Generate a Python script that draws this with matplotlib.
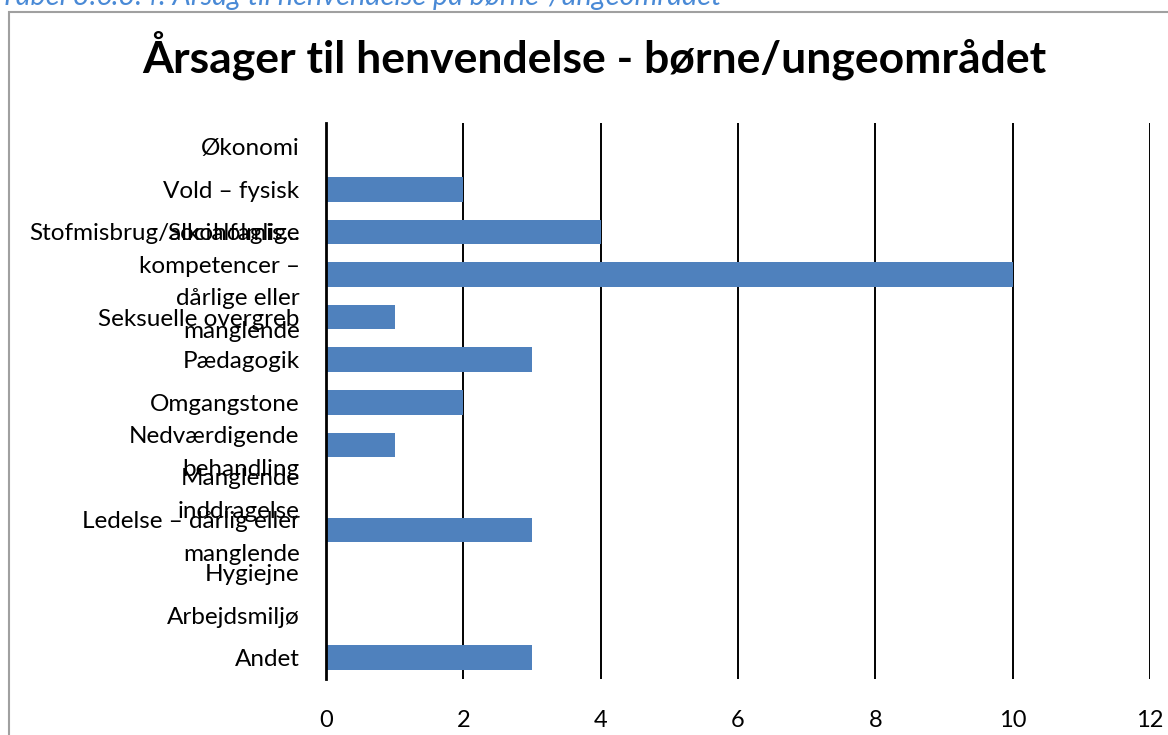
import matplotlib
matplotlib.use("Agg")
import matplotlib.pyplot as plt
from matplotlib.patches import Rectangle

# data (top to bottom)
kategorier = [
    "Økonomi",
    "Vold – fysisk",
    "Stofmisbrug/alkoholmis...",
    "Socialfaglige\nkompetencer –\ndårlige eller\nmanglende",
    "Seksuelle overgreb",
    "Pædagogik",
    "Omgangstone",
    "Nedværdigende\nbehandling",
    "Manglende\ninddragelse",
    "Ledelse – dårlig eller\nmanglende",
    "Hygiejne",
    "Arbejdsmiljø",
    "Andet",
]
antal = [0, 2, 4, 10, 1, 3, 2, 1, 0, 3, 0, 0, 3]
x_ticks = [0, 2, 4, 6, 8, 10, 12]

plt.rcParams['font.family'] = ['Lato', 'DejaVu Sans']

fig = plt.figure(figsize=(11.68, 7.35), dpi=100)
ax = fig.add_axes([326 / 1168, 1 - 679 / 735, (1150 - 326) / 1168, (679 - 123) / 735])

pos = list(range(len(kategorier)))
ax.barh(pos, antal, height=0.58, color="#4F81BD", zorder=3)

ax.set_xlim(0, 12)
ax.set_ylim(12.5, -0.56)
ax.set_xticks(x_ticks)
ax.set_yticks(pos)
ax.set_yticklabels(kategorier)
ax.tick_params(axis='x', length=0, pad=22, labelsize=17)
ax.tick_params(axis='y', length=0, pad=19, labelsize=17.5)
for lab in ax.get_yticklabels():
    lab.set_horizontalalignment('right')
    if "\n" in lab.get_text():
        lab.set_linespacing(1.7)

ax.grid(axis='x', color='black', linewidth=1.4, zorder=1)
for s in ['top', 'right', 'bottom']:
    ax.spines[s].set_visible(False)
ax.spines['left'].set_linewidth(2)
ax.spines['left'].set_zorder(4)

fig.text(594 / 1168, 1 - 55 / 735, "Årsager til henvendelse - børne/ungeområdet",
         ha='center', va='center', fontsize=32, fontweight='bold')

# cut-off caption above the chart frame
fig.text(0, 1 - 5 / 735, "Tabel 3.6.3.4: Årsag til henvendelse på børne-/ungeområdet",
         ha='left', va='baseline', fontsize=20.8, style='italic', color='#4A8AD6')

# grey chart frame
fig.patches.append(Rectangle((9 / 1168, -0.1), 1.2, 1 - 11.5 / 735 + 0.1,
                             transform=fig.transFigure, fill=False,
                             edgecolor='#A0A0A0', linewidth=1.5))

fig.savefig("out.png", dpi=100)
